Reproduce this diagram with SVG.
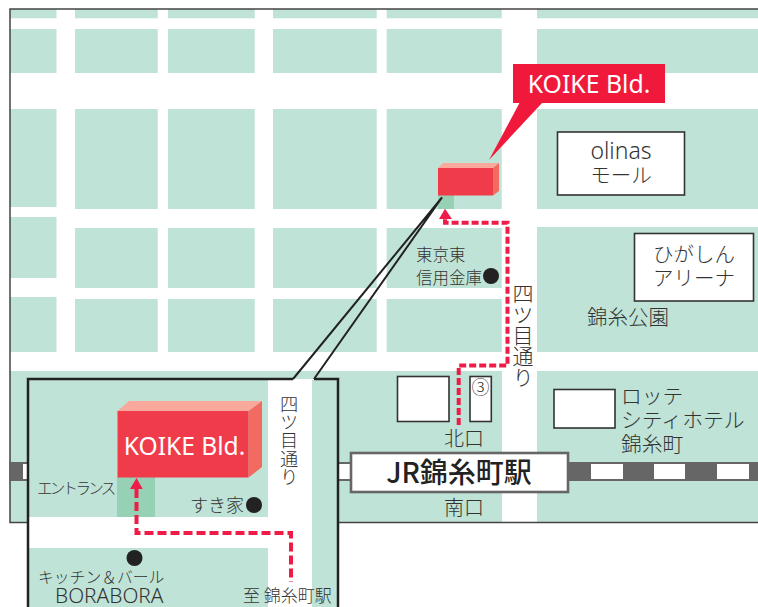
<svg xmlns="http://www.w3.org/2000/svg" width="758" height="607" viewBox="0 0 758 607">
<style>
.b{fill:#bfe3d6}
.t{font-family:"Noto Sans CJK JP","Noto Sans",sans-serif;font-weight:300;fill:#333;font-size:20px}
.l{font-family:"Noto Sans","Noto Sans CJK JP",sans-serif;font-weight:400;fill:#fff}
.box{fill:#fff;stroke:#333;stroke-width:1.6}
.v{writing-mode:vertical-rl;text-orientation:upright}
.d{fill:#222}
.r{fill:none;stroke:#ee1c47;stroke-width:4}
.f{fill:#f03c4a}.tp{fill:#f9a99b}.s{fill:#f26a60}.e{fill:#96d1b5}
.w{fill:#fff}
</style>
<rect width="758" height="607" fill="#fff"/>
<g id="blocks">
<rect class="b" x="10" y="9" width="46.500" height="9.300"/><rect class="b" x="75" y="9" width="82.700" height="9.300"/><rect class="b" x="168" y="9" width="86.700" height="9.300"/><rect class="b" x="273" y="9" width="103.700" height="9.300"/><rect class="b" x="386.700" y="9" width="115" height="9.300"/><rect class="b" x="537" y="9" width="221" height="9.300"/>
<rect class="b" x="10" y="29" width="46.500" height="44"/><rect class="b" x="75" y="29" width="82.700" height="44"/><rect class="b" x="168" y="29" width="86.700" height="44"/><rect class="b" x="273" y="29" width="103.700" height="44"/><rect class="b" x="386.700" y="29" width="115" height="44"/><rect class="b" x="537" y="29" width="221" height="44"/>
<rect class="b" x="10" y="109" width="46.500" height="98"/><rect class="b" x="75" y="109" width="82.700" height="100"/><rect class="b" x="168" y="109" width="86.700" height="100"/><rect class="b" x="273" y="109" width="103.700" height="100"/><rect class="b" x="386.700" y="109" width="115" height="100"/><rect class="b" x="537" y="109" width="221" height="100"/>
<rect class="b" x="10" y="217" width="46.500" height="61"/><rect class="b" x="75" y="228" width="82.700" height="60"/><rect class="b" x="168" y="228" width="86.700" height="60"/><rect class="b" x="273" y="228" width="103.700" height="60"/><rect class="b" x="386.700" y="228" width="115" height="60"/><rect class="b" x="537" y="227" width="221" height="125"/>
<rect class="b" x="10" y="297" width="46.500" height="55"/><rect class="b" x="75" y="299" width="82.700" height="53"/><rect class="b" x="168" y="299" width="86.700" height="53"/><rect class="b" x="273" y="299" width="103.700" height="53"/><rect class="b" x="386.700" y="299" width="115" height="53"/>
<rect class="b" x="10" y="371" width="492" height="151"/><rect class="b" x="537" y="371" width="221" height="151"/>
</g>
<path d="M758 9H10V522.500H758" fill="none" stroke="#444" stroke-width="1.500"/>
<g id="railway">
<rect x="9" y="462" width="749" height="19" fill="#666"/>
<rect class="w" x="23" y="464" width="32" height="15"/><rect class="w" x="339" y="464" width="32" height="15"/><rect class="w" x="591" y="464" width="32" height="15"/><rect class="w" x="654" y="464" width="31" height="15"/><rect class="w" x="717" y="464" width="32" height="15"/>
</g>
<g id="station">
<rect x="351" y="453" width="217" height="39" fill="#fff" stroke="#666" stroke-width="2.600"/>
<text x="459" y="483" text-anchor="middle" style="font-family:'Noto Sans CJK JP','Noto Sans',sans-serif;font-size:28px;font-weight:500;fill:#222">JR錦糸町駅</text>
</g>
<g id="station-labels">
<rect class="box" x="397.500" y="376.500" width="51.500" height="45"/>
<rect class="box" x="470" y="376.500" width="21.300" height="45"/>
<text class="t" x="480.500" y="394" text-anchor="middle" style="font-size:18px">③</text>
<text class="t" x="444" y="446">北口</text>
<text class="t" x="444" y="515">南口</text>
</g>
<g id="hotel">
<rect class="box" x="554" y="389.500" width="61" height="38.500"/>
<text class="t" x="621" y="404" style="font-size:20.800px">ロッテ</text>
<text class="t" x="621" y="428" style="font-size:20.800px">シティホテル</text>
<text class="t" x="621" y="452" style="font-size:20.800px">錦糸町</text>
</g>
<g id="olinas">
<rect class="box" x="557.500" y="132" width="127" height="63"/>
<text class="t" x="621" y="159" text-anchor="middle" style="font-family:'Noto Sans','Noto Sans CJK JP',sans-serif;font-size:23px">olinas</text>
<text class="t" x="621" y="183" text-anchor="middle" style="font-size:20.500px">モール</text>
</g>
<g id="arena">
<rect class="box" x="634.500" y="233.500" width="119" height="67.500"/>
<text class="t" x="694" y="262" text-anchor="middle" style="font-size:20.500px">ひがしん</text>
<text class="t" x="694" y="286" text-anchor="middle" style="font-size:20.500px">アリーナ</text>
</g>
<text id="park" class="t" x="587" y="325" style="font-size:20.500px">錦糸公園</text>
<g id="bank">
<text class="t" x="416" y="261" style="font-size:16.500px">東京東</text>
<text class="t" x="416" y="284" style="font-size:16.500px">信用金庫</text>
<circle class="d" cx="491" cy="276" r="8"/>
</g>
<text id="road-label" class="t v" x="523" y="283" style="font-size:21px">四ツ目通り</text>
<g id="koike-small">
<rect class="e" x="438" y="195" width="16" height="14"/>
<polygon class="tp" points="438,168 443,163 499,163 493,168"/>
<polygon class="s" points="493,168 499,163 499,191 493,195.500"/>
<rect class="f" x="438" y="168" width="55" height="27.500"/>
</g>
<g id="callout">
<polygon fill="#f0193c" points="520,102 543,102 489,160"/>
<rect x="513" y="64" width="152" height="39" fill="#f0193c"/>
<text class="l" x="589" y="93" text-anchor="middle" style="font-size:24.800px">KOIKE Bld.</text>
</g>
<g id="inset">
<rect x="28" y="379" width="310" height="240" fill="#fff"/>
<rect class="b" x="29" y="380" width="239" height="137"/>
<rect class="b" x="29" y="548" width="239" height="59"/>
<rect class="b" x="312" y="380" width="25" height="227"/>
<path d="M293 379H28V607M338 607V379H314" fill="none" stroke="#222" stroke-width="2.500"/>
</g>
<g id="koike-large">
<rect class="e" x="117" y="477" width="38" height="40"/>
<polygon class="tp" points="117.500,411 129,401 262,401 248.500,411"/>
<polygon class="s" points="248.500,411 262,401 262,467 248.500,477.500"/>
<rect class="f" x="117.500" y="411" width="131" height="66.500"/>
<text class="l" x="184.500" y="455" text-anchor="middle" style="font-size:24.600px">KOIKE Bld.</text>
</g>
<g id="inset-labels">
<text class="t" x="37" y="494" style="font-size:15.500px;letter-spacing:-2.700px">エントランス</text>
<text class="t" x="190" y="512" style="font-size:18px">すき家</text>
<circle class="d" cx="254" cy="505" r="8"/>
<circle class="d" cx="134.500" cy="558" r="8"/>
<text class="t" x="38" y="583" style="font-size:15.800px">キッチン＆バール</text>
<text class="t" x="55" y="603" style="font-family:'Noto Sans','Noto Sans CJK JP',sans-serif;font-size:20.800px">BORABORA</text>
<text class="t" x="243" y="602" style="font-size:17px">至 錦糸町駅</text>
<text class="t v" x="289" y="395" style="font-size:18.200px">四ツ目通り</text>
</g>
<g id="connectors">
<path d="M293 379L442 197.500L314 379" fill="none" stroke="#222" stroke-width="2"/>
<path class="r" stroke-dasharray="7 3" d="M458.700 425V365.500H507.500V222.700H445V219"/>
<polygon fill="#ee1c47" points="445,208.700 452,219 439,219"/>
<path class="r" stroke-dasharray="9 4" d="M136.500 489V533H291V582"/>
<polygon fill="#ee1c47" points="136.500,478 142.700,489 130,489"/>
</g>
</svg>
